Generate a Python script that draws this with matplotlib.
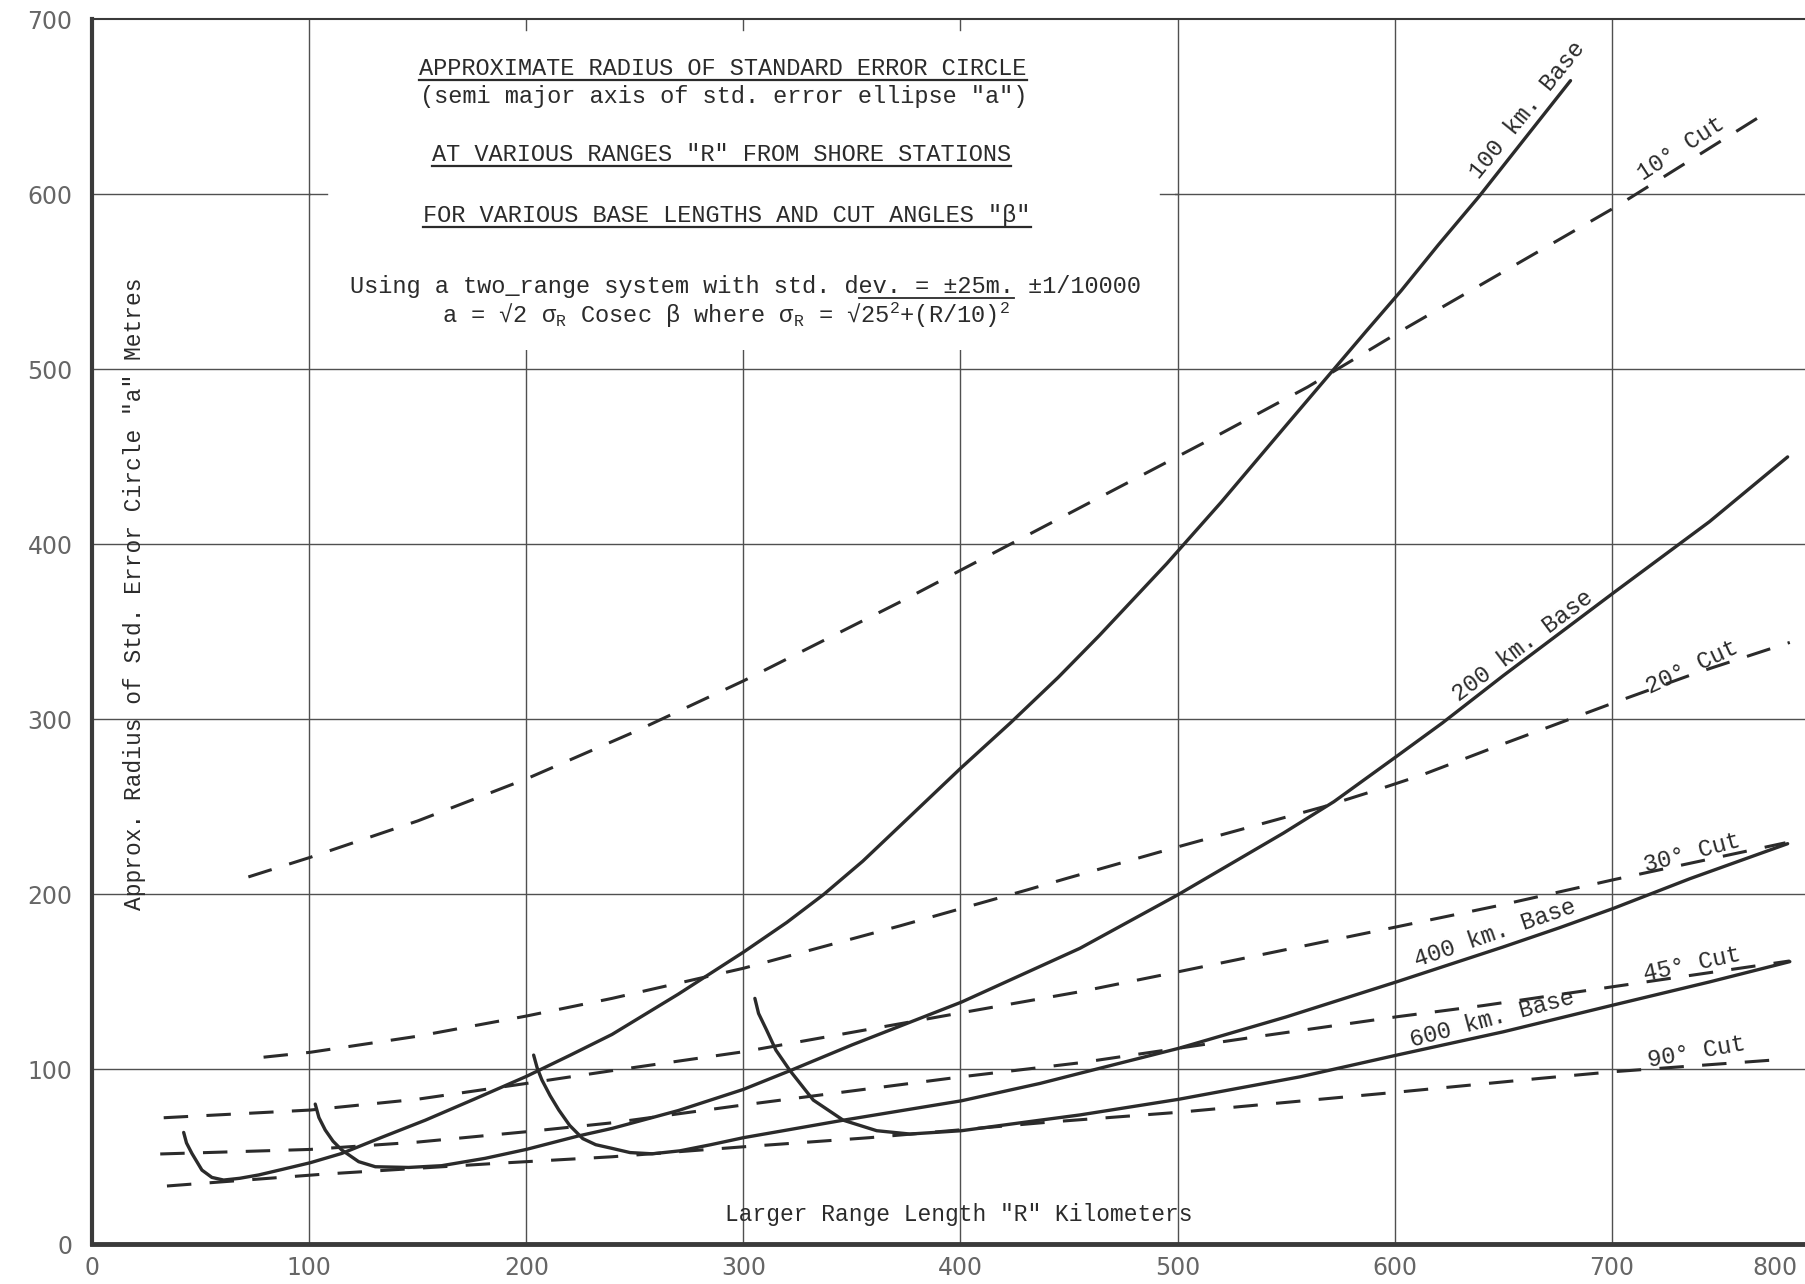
import matplotlib.pyplot as plt
from matplotlib.patches import Rectangle

plt.rcParams['font.family'] = ['Liberation Mono', 'DejaVu Sans Mono']
plt.rcParams['mathtext.fontset'] = 'custom'
plt.rcParams['mathtext.rm'] = 'Liberation Mono'
plt.rcParams['mathtext.it'] = 'Liberation Mono'

# base length curves (solid)
base100_x = [42.2, 43.5, 46, 50.6, 55.2, 60.6, 68, 76.7, 88, 100.5, 115, 133, 153.5, 176, 200, 220,
             239.5, 270, 300, 320, 337, 355, 372, 400, 423, 445, 464, 495, 520, 550, 587, 603, 620,
             639, 660, 681]
base100_y = [64, 58, 52, 42.5, 38.3, 36.8, 37.8, 39.7, 43, 46.7, 52, 61, 71, 83, 96, 108,
             120, 143, 167, 184, 200, 219, 239, 272, 298, 324, 348, 389, 424, 468, 522, 545, 571,
             599, 632, 665]

base200_x = [102.8, 104.5, 107.4, 111, 115, 122.8, 130.5, 145.8, 161, 181, 200, 224, 239.5, 270,
             300, 321.5, 350, 400.5, 455, 500, 548.7, 572, 601, 622, 650, 701.5, 745, 781]
base200_y = [80.2, 72.5, 65.4, 59, 54, 47.3, 44.4, 44, 45, 49.2, 54.3, 62, 66.3, 76.5,
             88.6, 99.3, 114, 138.5, 169.2, 199.7, 235, 253, 279, 298, 325, 373, 413, 450]

base400_x = [203.4, 205, 207.2, 211, 215, 220, 226, 232, 239.5, 247.8, 258, 270.8, 285, 300, 346,
             400.5, 436.6, 455, 500.3, 550, 601, 650, 676, 700.7, 736, 781]
base400_y = [108.2, 101, 94, 85, 76.8, 68, 60.5, 57, 54.9, 52.5, 51.8, 53.5, 57, 61, 71,
             82.1, 92, 97.8, 112, 130, 150.1, 170, 181, 192, 209, 229]

base600_x = [305.3, 307, 310.7, 315, 321.5, 332.2, 346, 361.4, 376.7, 400.5, 436.6, 455, 500.3,
             556.5, 601, 650, 700.7, 745, 782]
base600_y = [140.6, 132, 122.5, 111, 99.3, 82.5, 71, 65, 63.1, 65, 71, 74, 82.9,
             95.8, 108.2, 121.5, 136.8, 150, 161.6]

# cut angle curves (dashed)
cut10_x = [72, 100, 150, 200, 250, 300, 372, 412, 512, 560, 605, 702, 767]
cut10_y = [210, 221, 242, 266, 293, 322, 367, 393, 458, 490, 523.5, 593, 643.5]

cut20_x = [79, 100.5, 150, 200, 239.5, 300, 372, 430.5, 449, 501, 567, 590, 612, 650, 702, 740, 782]
cut20_y = [107, 109.8, 119, 130.5, 140.6, 157.8, 182, 202.5, 209.2, 227.5, 250, 259, 268, 286, 310, 327, 344]

cut30_x = [33, 100.5, 150, 200, 239.5, 300, 400.5, 455, 500.3, 601, 647, 701.5, 780]
cut30_y = [72.4, 76.8, 83, 92, 99.3, 110.1, 132.4, 144.4, 155.8, 181.5, 193.4, 208.6, 229.5]

cut45_x = [31.4, 100.5, 150, 200, 239.5, 300, 400.5, 455, 536.4, 601, 640.8, 700.7, 782]
cut45_y = [51.7, 54.3, 58.5, 64.4, 69.5, 79.7, 95.8, 103.8, 118.7, 130.1, 136.5, 147.3, 162]

cut90_x = [34.5, 107, 185.8, 239.5, 300, 358, 442.7, 500.3, 601, 667, 700.7, 779]
cut90_y = [33.4, 40.2, 46.3, 50.1, 55.8, 61, 70.1, 75.5, 87, 94.9, 98.7, 105.8]

x_ticks = [0, 100, 200, 300, 400, 500, 600, 700]
y_ticks = [0, 100, 200, 300, 400, 500, 600, 700]

# curve labels: text, x, y, angle
curve_labels = [
    ("100 km. Base", 661, 648, 51),
    ("10\u00b0 Cut", 732, 626, 33),
    ("200 km. Base", 659, 342, 37),
    ("20\u00b0 Cut", 737, 330, 25),
    ("30\u00b0 Cut", 737, 224, 15),
    ("400 km. Base", 646, 178, 19),
    ("45\u00b0 Cut", 737, 160, 12),
    ("600 km. Base", 645, 129, 15),
    ("90\u00b0 Cut", 739, 110, 10),
]

ink = '#2b2b2b'
gridc = '#505050'

fig = plt.figure(figsize=(18.05, 12.84), dpi=100)
ax = fig.add_axes([0.051, 0.0308, 0.949, 0.9541])
ax.set_xlim(0, 789)
ax.set_ylim(0, 700)

for gx in x_ticks[1:]:
    ax.axvline(gx, color=gridc, lw=1.0, zorder=1)
for gy in y_ticks[1:-1]:
    ax.axhline(gy, color=gridc, lw=1.0, zorder=1)

# blank panel behind the heading
ax.add_patch(Rectangle((101, 511), 398, 188.5, facecolor='white', edgecolor='none', zorder=1.5))
for gx in [200, 300, 400]:
    ax.plot([gx, gx], [700, 694], color=gridc, lw=1.0, zorder=2)
ax.plot([100, 108], [600, 600], color=gridc, lw=1.0, zorder=2)
ax.plot([492, 500], [600, 600], color=gridc, lw=1.0, zorder=2)

for xs, ys in [(base100_x, base100_y), (base200_x, base200_y),
               (base400_x, base400_y), (base600_x, base600_y)]:
    ax.plot(xs, ys, color=ink, lw=2.4, solid_capstyle='round', solid_joinstyle='round', zorder=3)

for xs, ys in [(cut10_x, cut10_y), (cut20_x, cut20_y), (cut30_x, cut30_y),
               (cut45_x, cut45_y), (cut90_x, cut90_y)]:
    ax.plot(xs, ys, color=ink, lw=2.2, dashes=(8, 6), zorder=3)

for s, lx, ly, ang in curve_labels:
    ax.text(lx, ly, s, fontsize=17, color=ink, rotation=ang, rotation_mode='anchor',
            ha='center', va='center', zorder=4)

# heading lines
head = [
    ("APPROXIMATE RADIUS OF STANDARD ERROR CIRCLE", 290.6, 668, True),
    ('(semi major axis of std. error ellipse "a")', 290.8, 652, False),
    ('AT VARIOUS RANGES "R" FROM SHORE STATIONS', 290.0, 619, True),
    ('FOR VARIOUS BASE LENGTHS AND CUT ANGLES "\u03b2"', 292.4, 584, True),
]
head_texts = []
for s, hx, hy, ul in head:
    t = ax.text(hx, hy, s, fontsize=17, color=ink, ha='center', va='baseline', zorder=4)
    head_texts.append((t, hy, ul))

note1 = "Using a two_range system with std. dev. = \u00b125m. \u00b11/10000"
note2 = 'a = \u221a2 \u03c3$_{\\rm R}$ Cosec \u03b2 where \u03c3$_{\\rm R}$ = \u221a25$^{2}$+(R/10)$^{2}$'
t5 = ax.text(301.2, 543.5, note1, fontsize=17, color=ink, ha='center', va='baseline', zorder=4)
ax.text(292, 526.5, note2, fontsize=17, color=ink, ha='center', va='baseline', zorder=4)

ax.text(19.6, 372, 'Approx. Radius of Std. Error Circle "a" Metres', fontsize=16.5, color=ink,
        rotation=90, ha='center', va='center', zorder=4)
ax.text(399, 17, 'Larger Range Length "R" Kilometers', fontsize=16.5, color=ink,
        ha='center', va='center', zorder=4)

# underlines
fig.canvas.draw()
inv = ax.transData.inverted()
for t, hy, ul in head_texts:
    if not ul:
        continue
    bb = t.get_window_extent()
    x0 = inv.transform((bb.x0, bb.y0))[0]
    x1 = inv.transform((bb.x1, bb.y0))[0]
    ax.plot([x0, x1], [hy - 2.6, hy - 2.6], color=ink, lw=1.6, zorder=4)
bb = t5.get_window_extent()
cw = (bb.x1 - bb.x0) / len(note1)
i0 = note1.index('ev.')
i1 = note1.index('m.') + 2
xa = inv.transform((bb.x0 + cw * i0, bb.y0))[0]
xb = inv.transform((bb.x0 + cw * i1, bb.y0))[0]
ax.plot([xa, xb], [540.8, 540.8], color=ink, lw=1.3, zorder=4)

ax.set_xticks(x_ticks + [775])
ax.set_xticklabels([str(v) for v in x_ticks] + ['800'])
ax.set_yticks(y_ticks)
ax.tick_params(length=0, labelsize=17, labelcolor='#666666')
ax.tick_params(axis='y', pad=14)
ax.tick_params(axis='x', pad=8)
for lbl in ax.get_xticklabels() + ax.get_yticklabels():
    lbl.set_fontfamily('DejaVu Sans')

ax.spines['right'].set_visible(False)
ax.spines['left'].set_linewidth(3.0)
ax.spines['bottom'].set_linewidth(3.5)
ax.spines['top'].set_linewidth(1.5)
for sp in ax.spines.values():
    sp.set_color('#3a3a3a')

fig.savefig('out.png', dpi=100, facecolor='white')
